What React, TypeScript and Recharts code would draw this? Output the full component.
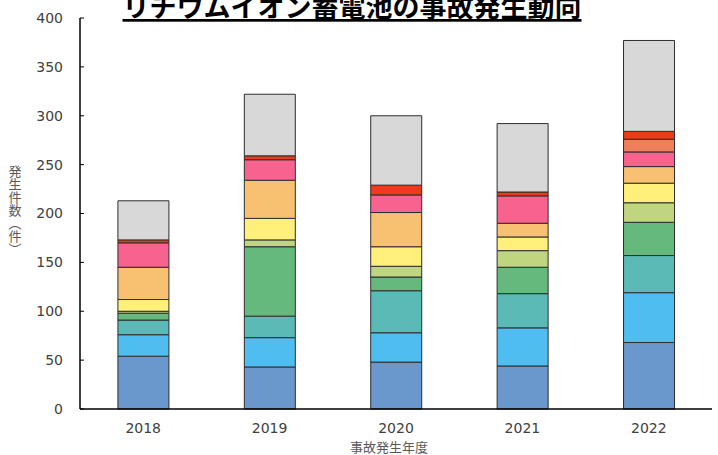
import { BarChart, Bar, XAxis, YAxis } from "recharts"

const years = ["2018", "2019", "2020", "2021", "2022"]

// bottom to top segment values per year
const steelBlue = [54, 43, 48, 44, 68]
const lightBlue = [22, 30, 30, 39, 51]
const teal = [15, 22, 43, 35, 38]
const green = [7, 71, 14, 27, 34]
const yellowGreen = [2, 7, 11, 17, 20]
const yellow = [12, 22, 20, 14, 20]
const orange = [33, 39, 35, 14, 17]
const pink = [25, 21, 18, 28, 15]
const coral = [0, 0, 0, 0, 13]
const red = [3, 4, 10, 4, 8]
const grey = [40, 63, 71, 70, 93]

const yTicks = [0, 50, 100, 150, 200, 250, 300, 350, 400]

const series = [
  { key: "steelBlue", values: steelBlue, color: "#6a98cd" },
  { key: "lightBlue", values: lightBlue, color: "#4fbdef" },
  { key: "teal", values: teal, color: "#5bb9b6" },
  { key: "green", values: green, color: "#66b97d" },
  { key: "yellowGreen", values: yellowGreen, color: "#bfd57f" },
  { key: "yellow", values: yellow, color: "#fef07a" },
  { key: "orange", values: orange, color: "#f8c171" },
  { key: "pink", values: pink, color: "#f8628f" },
  { key: "coral", values: coral, color: "#ee7f5a" },
  { key: "red", values: red, color: "#ee3a18" },
  { key: "grey", values: grey, color: "#d8d8d8" },
]

const data = years.map((year, i) => {
  const row: Record<string, string | number> = { year }
  series.forEach((s) => {
    row[s.key] = s.values[i]
  })
  return row
})

const tickStyle = { fill: "#404040", fontSize: 14, fontFamily: "DejaVu Sans" }

export default function App() {
  return (
    <div style={{ position: "absolute", left: 0, top: 0, width: 718, height: 455, background: "#fff" }}>
      <BarChart
        width={718}
        height={455}
        data={data}
        margin={{ top: 18, right: 6, left: 0, bottom: 16 }}
        barCategoryGap="30%"
      >
        <XAxis
          dataKey="year"
          height={30}
          axisLine={{ stroke: "#000", strokeWidth: 1.5 }}
          tickLine={false}
          tick={tickStyle}
          tickMargin={8}
        />
        <YAxis
          width={80}
          domain={[0, 400]}
          ticks={yTicks}
          interval={0}
          axisLine={{ stroke: "#000", strokeWidth: 1.5 }}
          tickLine={{ stroke: "#000" }}
          tickSize={-4}
          tickMargin={21}
          tick={tickStyle}
        />
        {series.map((s) => (
          <Bar
            key={s.key}
            dataKey={s.key}
            stackId="a"
            fill={s.color}
            stroke="#2e2e2e"
            strokeWidth={1}
            isAnimationActive={false}
          />
        ))}
      </BarChart>
      <svg
        width={718}
        height={455}
        style={{ position: "absolute", left: 0, top: 0, pointerEvents: "none" }}
      >
        <text
          x={352}
          y={17}
          textAnchor="middle"
          fontFamily="Noto Sans CJK JP"
          fontWeight={700}
          fontSize={27}
          fill="#000"
          style={{ textDecoration: "underline" }}
        >
          リチウムイオン蓄電池の事故発生動向
        </text>
        <text
          x={15}
          y={210}
          textAnchor="middle"
          fontFamily="Noto Sans CJK JP"
          fontSize={13}
          fill="#595959"
          style={{ writingMode: "vertical-rl" }}
        >
          発生件数（件）
        </text>
        <text
          x={389}
          y={452}
          textAnchor="middle"
          fontFamily="Noto Sans CJK JP"
          fontSize={13}
          fill="#595959"
        >
          事故発生年度
        </text>
      </svg>
    </div>
  )
}
